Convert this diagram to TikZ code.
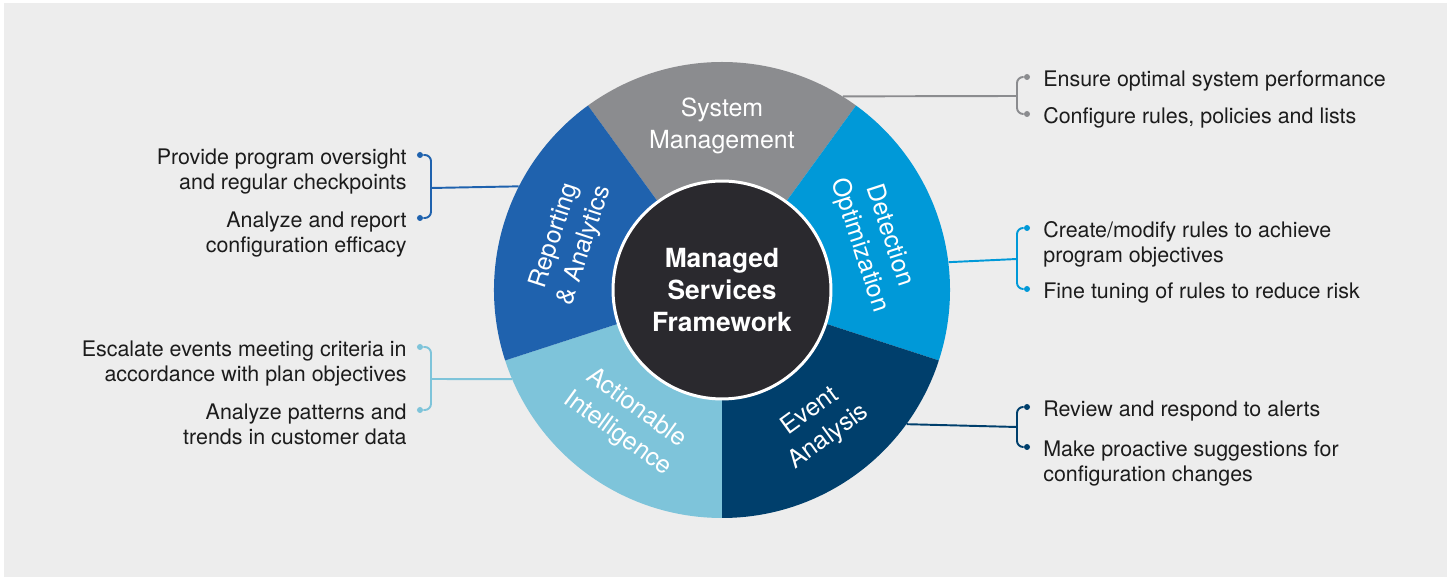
\documentclass[tikz,border=0pt]{standalone}
\usepackage{fontspec}
\setmainfont{TeX Gyre Heros}
\definecolor{bgGray}{HTML}{EDEDED}
\definecolor{sysGray}{HTML}{8B8C8F}
\definecolor{detBlue}{HTML}{0099D8}
\definecolor{evtNavy}{HTML}{003F6C}
\definecolor{actLight}{HTML}{7EC4DA}
\definecolor{repBlue}{HTML}{1F62AE}
\definecolor{hubDark}{HTML}{2A292E}
\definecolor{itemText}{HTML}{1C1C1C}

\begin{document}
\begin{tikzpicture}[x=0.02cm,y=0.02cm]
\tikzset{mySeg/.style={text=white,inner sep=0,align=center,font=\fontsize{14.2}{18}\selectfont}}
\tikzset{myItem/.style={inner sep=0,text=itemText,font=\fontsize{12.2}{14.2}\selectfont}}
\tikzset{myRight/.style={myItem,anchor=base west,align=left}}
\tikzset{myLeft/.style={myItem,anchor=base east,align=right}}
\tikzset{myDot/.style={circle,fill,inner sep=0,minimum size=0.12cm}}
\tikzset{myLink/.style={line width=1.1pt,rounded corners=3.5pt}}

\useasboundingbox (-722,-287) rectangle (725,290);
\fill[white] (-722,-287) rectangle (725,290);
\fill[bgGray] (-718,-287) rectangle (725,287);

\node[circle,minimum size=9.12cm,inner sep=0] (wheel) at (0,0) {};
\foreach \a/\c in {54/sysGray,-18/detBlue,-90/evtNavy,198/actLight,126/repBlue}
  \fill[\c] (wheel.center) -- (\a:228) arc[start angle=\a,delta angle=72,radius=228] -- cycle;
\node[circle,fill=hubDark,draw=white,line width=1.7pt,minimum size=4.36cm,inner sep=0,align=center,
  text=white,font=\bfseries\fontsize{15}{18.2}\selectfont] (hub) at (0,0) {Managed\\Services\\Framework};

\node[mySeg] (sysLbl) at (90:164) {System\\Management};
\node[mySeg,rotate=-72] (detLbl) at (18:160) {Detection\\Optimization};
\node[mySeg,rotate=36] (evtLbl) at (-54:166) {Event\\Analysis};
\node[mySeg,rotate=-36] (actLbl) at (234:162) {Actionable\\Intelligence};
\node[mySeg,rotate=72] (repLbl) at (162:160) {Reporting\\\& Analytics};

\node[myDot,sysGray] (sysDot1) at (305,213) {};
\node[myDot,sysGray] (sysDot2) at (305,176) {};
\coordinate (sysJoin) at (295,194);
\node[myRight] (sysItem1) at ([shift={(16,-9.5)}]sysDot1) {Ensure optimal system performance};
\node[myRight] (sysItem2) at ([shift={(16,-9.5)}]sysDot2) {Configure rules, policies and lists};
\draw[myLink,sysGray] (wheel.58.3) -- (sysJoin);
\draw[myLink,sysGray] (sysDot1) -| (sysJoin) |- (sysDot2);

\node[myDot,detBlue] (detDot1) at (305,62) {};
\node[myDot,detBlue] (detDot2) at (305,1) {};
\coordinate (detJoin) at (295,31);
\node[myRight] (detItem1) at ([shift={(16,-34.5)}]detDot1) {Create/modify rules to achieve\\program objectives};
\node[myRight] (detItem2) at ([shift={(16,-9.5)}]detDot2) {Fine tuning of rules to reduce risk};
\draw[myLink,detBlue] (wheel.7.8) -- (detJoin);
\draw[myLink,detBlue] (detDot1) -| (detJoin) |- (detDot2);

\node[myDot,evtNavy] (evtDot1) at (305,-117) {};
\node[myDot,evtNavy] (evtDot2) at (305,-157) {};
\coordinate (evtJoin) at (295,-137);
\node[myRight] (evtItem1) at ([shift={(16,-9.5)}]evtDot1) {Review and respond to alerts};
\node[myRight] (evtItem2) at ([shift={(16,-34.5)}]evtDot2) {Make proactive suggestions for\\configuration changes};
\draw[myLink,evtNavy] (wheel.-36.9) -- (evtJoin);
\draw[myLink,evtNavy] (evtDot1) -| (evtJoin) |- (evtDot2);

\node[myDot,repBlue] (repDot1) at (-302,135) {};
\node[myDot,repBlue] (repDot2) at (-302,72) {};
\coordinate (repJoin) at (-291,102);
\node[myLeft] (repItem1) at ([shift={(-13,-34.5)}]repDot1) {Provide program oversight\\and regular checkpoints};
\node[myLeft] (repItem2) at ([shift={(-13,-34.5)}]repDot2) {Analyze and report\\configuration efficacy};
\draw[myLink,repBlue] (wheel.153.4) -- (repJoin);
\draw[myLink,repBlue] (repDot1) -| (repJoin) |- (repDot2);

\node[myDot,actLight] (actDot1) at (-302,-57) {};
\node[myDot,actLight] (actDot2) at (-302,-120) {};
\coordinate (actJoin) at (-291,-89);
\node[myLeft] (actItem1) at ([shift={(-13,-34.5)}]actDot1) {Escalate events meeting criteria in\\accordance with plan objectives};
\node[myLeft] (actItem2) at ([shift={(-13,-34.5)}]actDot2) {Analyze patterns and\\trends in customer data};
\draw[myLink,actLight] (wheel.203) -- (actJoin);
\draw[myLink,actLight] (actDot1) -| (actJoin) |- (actDot2);
\end{tikzpicture}
\end{document}
